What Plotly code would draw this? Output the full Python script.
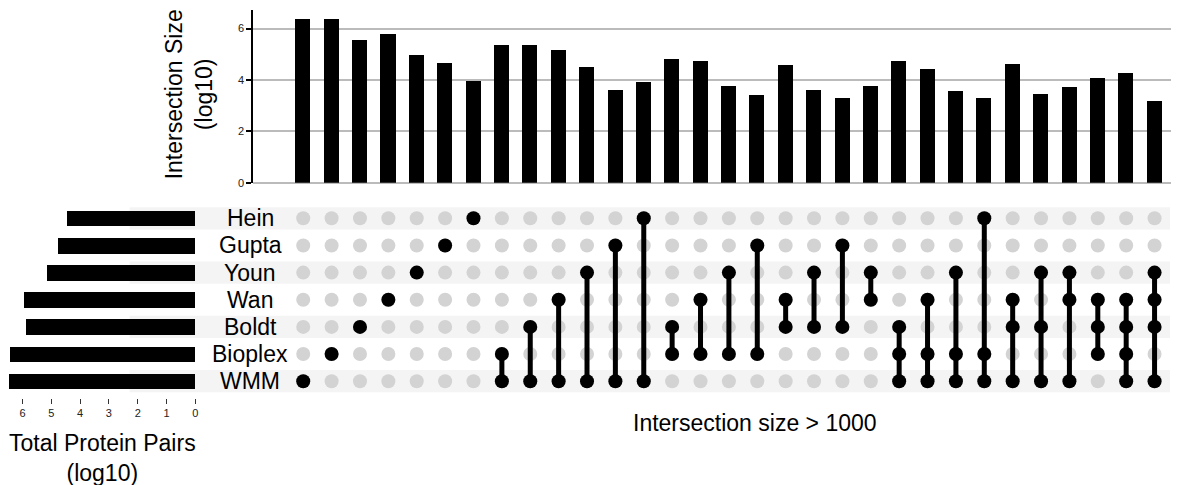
import plotly.graph_objects as go

W, H = 1182, 485

# ---------------- data ----------------
sets = ["Hein", "Gupta", "Youn", "Wan", "Boldt", "Bioplex", "WMM"]
set_totals_log10 = [4.47, 4.77, 5.17, 5.96, 5.89, 6.44, 6.48]

intersections = [
    ["WMM"], ["Bioplex"], ["Boldt"], ["Wan"], ["Youn"], ["Gupta"], ["Hein"],
    ["WMM", "Bioplex"], ["WMM", "Boldt"], ["WMM", "Wan"], ["WMM", "Youn"],
    ["WMM", "Gupta"], ["WMM", "Hein"],
    ["Bioplex", "Boldt"], ["Bioplex", "Wan"], ["Bioplex", "Youn"], ["Bioplex", "Gupta"],
    ["Boldt", "Wan"], ["Boldt", "Youn"], ["Boldt", "Gupta"], ["Wan", "Youn"],
    ["WMM", "Bioplex", "Boldt"], ["WMM", "Bioplex", "Wan"], ["WMM", "Bioplex", "Youn"],
    ["WMM", "Bioplex", "Hein"], ["WMM", "Boldt", "Wan"], ["WMM", "Boldt", "Youn"],
    ["WMM", "Wan", "Youn"], ["Bioplex", "Boldt", "Wan"],
    ["WMM", "Bioplex", "Boldt", "Wan"], ["WMM", "Boldt", "Wan", "Youn"],
]
intersection_sizes_log10 = [
    6.38, 6.38, 5.58, 5.81, 4.96, 4.65, 3.96, 5.38, 5.35, 5.19, 4.50, 3.62,
    3.92, 4.81, 4.73, 3.77, 3.42, 4.58, 3.62, 3.31, 3.77, 4.73, 4.42, 3.58,
    3.31, 4.62, 3.46, 3.73, 4.08, 4.27, 3.19,
]
top_ticks = [0, 2, 4, 6]
left_ticks = [0, 1, 2, 3, 4, 5, 6]

# ---------------- helpers ----------------
def px_x(p):
    return p / W

def px_y(p):
    return 1 - p / H

n_cols = len(intersections)
cols = list(range(n_cols))
row_val = {s: len(sets) - 1 - i for i, s in enumerate(sets)}

FONT = "Liberation Sans, Arial, Helvetica, sans-serif"
BIG = 23

fig = go.Figure()

# top bars
fig.add_trace(go.Bar(
    x=cols, y=intersection_sizes_log10, width=0.53,
    marker=dict(color="black", line=dict(width=0)),
    xaxis="x", yaxis="y", showlegend=False, hoverinfo="skip",
))

# grey background dots
gx, gy = [], []
for c in cols:
    for s in sets:
        gx.append(c)
        gy.append(row_val[s])
fig.add_trace(go.Scatter(
    x=gx, y=gy, mode="markers",
    marker=dict(size=14, color="#d3d3d3", line=dict(width=0)),
    xaxis="x", yaxis="y2", showlegend=False, hoverinfo="skip",
))

# connecting lines
lx, ly = [], []
for c, members in enumerate(intersections):
    vals = [row_val[m] for m in members]
    if len(vals) > 1:
        lx += [c, c, None]
        ly += [min(vals), max(vals), None]
fig.add_trace(go.Scatter(
    x=lx, y=ly, mode="lines",
    line=dict(color="black", width=5),
    xaxis="x", yaxis="y2", showlegend=False, hoverinfo="skip",
))

# black member dots
bx, by = [], []
for c, members in enumerate(intersections):
    for m in members:
        bx.append(c)
        by.append(row_val[m])
fig.add_trace(go.Scatter(
    x=bx, y=by, mode="markers",
    marker=dict(size=14, color="black", line=dict(width=0)),
    xaxis="x", yaxis="y2", showlegend=False, hoverinfo="skip",
))

# left set-size bars
fig.add_trace(go.Bar(
    x=set_totals_log10, y=[row_val[s] for s in sets], orientation="h", width=0.58,
    marker=dict(color="black", line=dict(width=0)),
    xaxis="x3", yaxis="y2", showlegend=False, hoverinfo="skip",
))

# ---------------- geometry ----------------
col0_px, col_step = 304.0, 28.45
x_left_px, x_right_px = 254.0, 1174.0
x_range = [(x_left_px - col0_px) / col_step, (x_right_px - col0_px) / col_step]

row0_px, row_step = 386.0, 27.5
y2_bottom_px = row0_px + row_step * 0.5
y2_top_px = row0_px - row_step * 6.5

top_unit = 26.0
top_zero_px, top_top_px = 185.0, 10.0
y_range = [0, (top_zero_px - top_top_px) / top_unit]

left_zero_px, left_unit = 195.7, 28.83
x3_range = [left_zero_px / left_unit, 0]

shapes = []
for s in ["Hein", "Youn", "Boldt", "WMM"]:
    r = row_val[s]
    shapes.append(dict(
        type="rect", xref="paper", yref="y2",
        x0=px_x(130), x1=px_x(1173), y0=r - 0.41, y1=r + 0.41,
        fillcolor="#f4f4f4", line=dict(width=0), layer="below",
    ))

annotations = []
for s in sets:
    annotations.append(dict(
        x=px_x(251), y=row_val[s], xref="paper", yref="y2",
        text=s, showarrow=False, xanchor="center", yanchor="middle",
        font=dict(family=FONT, size=BIG, color="black"),
    ))
annotations.append(dict(
    x=px_x(189), y=px_y(96), xref="paper", yref="paper",
    text="Intersection Size<br>(log10)", textangle=-90, showarrow=False,
    xanchor="center", yanchor="middle",
    font=dict(family=FONT, size=BIG, color="black"),
))
annotations.append(dict(
    x=px_x(756.5), y=px_y(428), xref="paper", yref="paper",
    text="Intersection size > 1000", showarrow=False,
    xanchor="center", yanchor="middle",
    font=dict(family=FONT, size=BIG, color="black"),
))
annotations.append(dict(
    x=px_x(103), y=px_y(464), xref="paper", yref="paper",
    text="Total Protein Pairs<br>(log10)", showarrow=False,
    xanchor="center", yanchor="middle",
    font=dict(family=FONT, size=BIG, color="black"),
))

fig.update_layout(
    width=W, height=H,
    margin=dict(l=0, r=0, t=0, b=0),
    paper_bgcolor="white", plot_bgcolor="rgba(0,0,0,0)",
    bargap=0, showlegend=False,
    font=dict(family=FONT, color="black"),
    shapes=shapes, annotations=annotations,
    xaxis=dict(
        domain=[px_x(x_left_px), px_x(x_right_px)], range=x_range,
        anchor="y", showticklabels=False, ticks="", showgrid=False,
        zeroline=False, showline=False, fixedrange=True,
    ),
    yaxis=dict(
        domain=[px_y(top_zero_px), px_y(top_top_px)], range=y_range,
        anchor="x", tickvals=top_ticks, ticks="outside", ticklen=5,
        tickwidth=1.5, tickcolor="black",
        showline=True, linecolor="black", linewidth=2,
        showgrid=True, gridcolor="#bbbbbb", gridwidth=1.5,
        zeroline=True, zerolinecolor="#bbbbbb", zerolinewidth=1.5,
        tickfont=dict(family=FONT, size=11, color="#222"),
    ),
    yaxis2=dict(
        domain=[px_y(y2_bottom_px), px_y(y2_top_px)], range=[-0.5, 6.5],
        anchor="x", showticklabels=False, ticks="", showgrid=False,
        zeroline=False, showline=False, fixedrange=True,
    ),
    xaxis3=dict(
        domain=[0, px_x(left_zero_px)], range=x3_range,
        anchor="free", position=px_y(403),
        tickvals=left_ticks, ticks="outside", ticklen=5, tickwidth=1,
        tickcolor="#333", showline=False, showgrid=False, zeroline=False,
        tickfont=dict(family=FONT, size=11, color="#222"),
    ),
)

fig.write_html("out.html")
